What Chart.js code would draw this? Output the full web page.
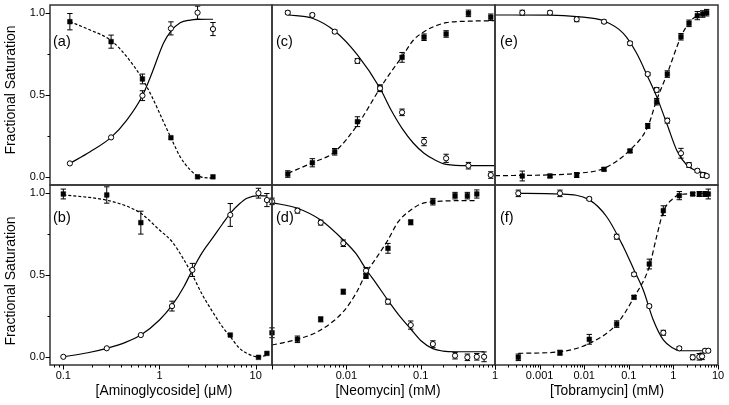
<!DOCTYPE html>
<html><head><meta charset="utf-8">
<script src="https://cdn.jsdelivr.net/npm/chart.js@4/dist/chart.umd.min.js"></script>
<style>
html,body{margin:0;padding:0;background:#fff;}
#wrap{position:relative;width:729px;height:405px;overflow:hidden;background:#fff;}
#wrap canvas{position:absolute;left:0;top:0;}
</style></head><body>
<div id="wrap">
<canvas id="pa" width="729" height="405"></canvas>
<canvas id="pb" width="729" height="405"></canvas>
<canvas id="pc" width="729" height="405"></canvas>
<canvas id="pd" width="729" height="405"></canvas>
<canvas id="pe" width="729" height="405"></canvas>
<canvas id="pf" width="729" height="405"></canvas>
</div>
<script>
// ---------- tick labels ----------
const yTickVals = [0, 0.5, 1];
const xTicksAmino = [0.1, 1, 10];
const xTicksNeo = [0.01, 0.1, 1];
const xTicksTobra = [0.001, 0.01, 0.1, 1, 10];

// ---------- panel (a) ----------
const aX = [0.117, 0.314, 0.665, 1.315, 2.49, 3.6];
const aOpen = [0.082, 0.241, 0.496, 0.907, 1.003, 0.903];
const aOpenErr = [0, 0, 0.03, 0.04, 0.04, 0.04];
const aFilled = [0.948, 0.826, 0.598, 0.239, 0.0, 0.0];
const aFilledErr = [0.05, 0.04, 0.03, 0, 0, 0];
const aFitX = [0.117, 0.19, 0.314, 0.457, 0.665, 0.834, 1.1, 1.315, 1.64, 2.09, 2.49, 3.6];
const aFitOpen = [0.082, 0.153, 0.241, 0.347, 0.496, 0.633, 0.816, 0.89, 0.942, 0.958, 0.962, 0.963];
const aFitFilled = [0.948, 0.897, 0.833, 0.734, 0.598, 0.49, 0.337, 0.239, 0.123, 0.042, 0.006, -0.009];

// ---------- panel (b) ----------
const bOpenX = [0.1, 0.283, 0.64, 1.35, 2.2, 5.45, 10.7, 13.1];
const bOpen = [0.0, 0.052, 0.133, 0.31, 0.531, 0.867, 1.0, 0.958];
const bOpenErr = [0, 0, 0, 0.03, 0.04, 0.07, 0.03, 0.04];
const bFilledX = [0.1, 0.283, 0.64, 5.45, 10.7, 13.1];
const bFilled = [0.995, 0.989, 0.82, 0.133, -0.003, 0.021];
const bFilledErr = [0.03, 0.05, 0.07, 0, 0, 0];
const bFitX = [0.1, 0.18, 0.283, 0.45, 0.64, 1.0, 1.35, 1.8, 2.2, 2.8, 3.65, 4.5, 5.45, 6.8, 8.13, 10.7, 13.1];
const bFitOpen = [0.0, 0.025, 0.052, 0.09, 0.133, 0.225, 0.314, 0.43, 0.531, 0.64, 0.734, 0.81, 0.877, 0.935, 0.969, 0.985, 0.983];
const bFitFilled = [0.989, 0.975, 0.957, 0.922, 0.877, 0.775, 0.704, 0.592, 0.5, 0.378, 0.266, 0.184, 0.123, 0.052, 0.021, 0.0, 0.01];

// ---------- panel (c) ----------
const cX = [0.00163, 0.00349, 0.00698, 0.0141, 0.0284, 0.0562, 0.111, 0.22, 0.439, 0.877];
const cOpen = [1.003, 0.989, 0.887, 0.708, 0.541, 0.394, 0.215, 0.113, 0.068, 0.011];
const cOpenErr = [0.01, 0.01, 0.01, 0.015, 0.02, 0.02, 0.025, 0.025, 0.02, 0.02];
const cFilled = [0.017, 0.086, 0.153, 0.337, 0.541, 0.73, 0.853, 0.873, 0.999, 0.975];
const cFilledErr = [0.02, 0.025, 0.02, 0.03, 0.02, 0.03, 0.02, 0.02, 0.02, 0.02];
const cFitX = [0.00163, 0.00349, 0.00698, 0.0141, 0.0284, 0.04, 0.0562, 0.08, 0.111, 0.15, 0.22, 0.439, 1.0];
const cFitOpen = [0.989, 0.969, 0.891, 0.745, 0.541, 0.408, 0.296, 0.205, 0.144, 0.107, 0.076, 0.068, 0.068];
const cFitFilled = [0.021, 0.086, 0.153, 0.317, 0.541, 0.642, 0.734, 0.836, 0.887, 0.918, 0.942, 0.951, 0.954];

// ---------- panel (d) ----------
const dOpenX = [0.001, 0.0022, 0.00452, 0.0091, 0.0184, 0.0363, 0.0735, 0.146, 0.29, 0.425, 0.569, 0.713];
const dOpen = [0.95, 0.893, 0.82, 0.694, 0.526, 0.337, 0.194, 0.078, 0.007, -0.003, 0.0, 0.0];
const dOpenErr = [0.02, 0.015, 0.015, 0.02, 0.02, 0.015, 0.025, 0.02, 0.02, 0.02, 0.02, 0.03];
const dFilledX = [0.001, 0.0022, 0.00452, 0.0091, 0.0184, 0.0363, 0.0735, 0.146, 0.29, 0.425, 0.569];
const dFilled = [0.147, 0.107, 0.229, 0.398, 0.494, 0.663, 0.822, 0.948, 0.985, 0.985, 0.995];
const dFilledErr = [0.03, 0.02, 0.015, 0.015, 0.015, 0.03, 0.015, 0.02, 0.02, 0.02, 0.025];
const dFitOpenX = [0.001, 0.0022, 0.00452, 0.0091, 0.0135, 0.0184, 0.026, 0.0363, 0.05, 0.0735, 0.1, 0.146, 0.2, 0.29, 0.713];
const dFitOpen = [0.942, 0.908, 0.836, 0.714, 0.63, 0.535, 0.44, 0.345, 0.26, 0.17, 0.1, 0.05, 0.035, 0.031, 0.031];
const dFitFilledX = [0.001, 0.0022, 0.00452, 0.0091, 0.0135, 0.0184, 0.026, 0.0363, 0.05, 0.0735, 0.1, 0.146, 0.2, 0.29, 0.58];
const dFitFilled = [0.072, 0.107, 0.164, 0.276, 0.388, 0.51, 0.612, 0.714, 0.826, 0.897, 0.934, 0.948, 0.952, 0.954, 0.955];

// ---------- panel (e) ----------
const eX = [0.000409, 0.00171, 0.00679, 0.0278, 0.1064, 0.2656, 0.4217, 0.73, 1.479, 2.24, 3.44, 4.54, 5.58];
const eOpen = [1.003, 1.003, 0.963, 0.948, 0.816, 0.628, 0.531, 0.343, 0.144, 0.072, 0.037, 0.011, 0.005];
const eOpenErr = [0.015, 0.01, 0.015, 0.01, 0.01, 0.01, 0.015, 0.015, 0.03, 0.015, 0.01, 0.015, 0.01];
const eFilled = [0.005, 0.005, 0.011, 0.046, 0.158, 0.311, 0.459, 0.628, 0.856, 0.938, 0.985, 0.995, 1.003];
const eFilledErr = [0.03, 0.01, 0.015, 0.01, 0.01, 0.015, 0.02, 0.02, 0.02, 0.02, 0.025, 0.02, 0.02];
const eFitOpenX = [0.0001, 0.00171, 0.00679, 0.0278, 0.0753, 0.15, 0.2656, 0.4217, 0.73, 1.185, 1.99, 3.2, 5.58];
const eFitOpen = [0.989, 0.988, 0.979, 0.952, 0.877, 0.755, 0.612, 0.49, 0.317, 0.163, 0.072, 0.037, 0.021];
const eFitFilledX = [0.0001, 0.00171, 0.00679, 0.0278, 0.1064, 0.2656, 0.4217, 0.73, 1.479, 2.35, 3.44, 5.58];
const eFitFilled = [0.007, 0.012, 0.021, 0.052, 0.164, 0.305, 0.469, 0.632, 0.856, 0.948, 0.985, 1.003];

// ---------- panel (f) ----------
const fOpenX = [0.000333, 0.00286, 0.013, 0.0535, 0.131, 0.288, 0.594, 1.357, 2.71, 3.81, 4.4, 5.12, 6.06];
const fOpen = [0.999, 0.999, 0.965, 0.734, 0.504, 0.31, 0.147, 0.052, -0.003, 0.0, 0.003, 0.037, 0.037];
const fOpenErr = [0.02, 0.02, 0.01, 0.015, 0.01, 0.01, 0.015, 0.01, 0.015, 0.02, 0.02, 0.01, 0.01];
const fFilledX = [0.000333, 0.00286, 0.013, 0.0535, 0.131, 0.288, 0.594, 1.357, 2.71, 3.81, 5.12, 6.06];
const fFilled = [-0.003, 0.025, 0.107, 0.2, 0.364, 0.567, 0.893, 0.985, 0.995, 0.995, 0.995, 0.995];
const fFilledErr = [0.02, 0.015, 0.03, 0.02, 0.01, 0.03, 0.03, 0.025, 0.01, 0.015, 0.015, 0.03];
const fFitOpenX = [0.000333, 0.00286, 0.013, 0.0319, 0.0753, 0.131, 0.211, 0.354, 0.594, 1.0, 1.357, 6.6];
const fFitOpen = [0.999, 0.995, 0.959, 0.856, 0.673, 0.531, 0.408, 0.225, 0.103, 0.052, 0.037, 0.037];
const fFitFilledX = [0.000333, 0.00286, 0.013, 0.0535, 0.131, 0.288, 0.42, 0.594, 1.0, 1.357, 6.06];
const fFitFilled = [0.021, 0.031, 0.082, 0.2, 0.364, 0.551, 0.734, 0.887, 0.969, 0.991, 1.0];

// ---------- rendering ----------
const FONT = '"Liberation Sans", Arial, Helvetica, sans-serif';
Chart.defaults.font.family = FONT;
Chart.defaults.color = '#000';
const W = 729, H = 405;
const COLS = [{l:50, r:272}, {l:272, r:495}, {l:495, r:718}];
const ROWS = [{t:5, b:185}, {t:185, b:365}];
const Y_AXIS_W = 50, X_AXIS_H = 40;

function pts(xs, ys) { return xs.map((x, i) => ({x: x, y: ys[i]})); }

const errorBars = {
  id: 'errorBars',
  beforeDatasetsDraw(chart) {
    const ctx = chart.ctx, xs = chart.scales.x, ys = chart.scales.y;
    ctx.save();
    ctx.strokeStyle = '#000'; ctx.lineWidth = 1;
    chart.data.datasets.forEach(ds => {
      if (!ds.errors) return;
      ds.data.forEach((p, i) => {
        const e = ds.errors[i]; if (!e) return;
        const px = xs.getPixelForValue(p.x);
        const y1 = ys.getPixelForValue(p.y + e), y2 = ys.getPixelForValue(p.y - e);
        ctx.beginPath();
        ctx.moveTo(px, y1); ctx.lineTo(px, y2);
        ctx.moveTo(px - 2.7, y1); ctx.lineTo(px + 2.7, y1);
        ctx.moveTo(px - 2.7, y2); ctx.lineTo(px + 2.7, y2);
        ctx.stroke();
      });
    });
    ctx.restore();
  }
};

function framePlugin(p) {
  return {
    id: 'frame',
    afterDraw(chart) {
      const ctx = chart.ctx, a = chart.chartArea;
      ctx.save();
      ctx.strokeStyle = '#333'; ctx.lineWidth = 1.5;
      ctx.strokeRect(a.left, a.top, a.right - a.left, a.bottom - a.top);
      ctx.strokeStyle = '#000'; ctx.lineWidth = 1;
      if (p.row === 1) {
        const xs = chart.scales.x;
        const lo = Math.floor(Math.log10(p.xMin)), hi = Math.ceil(Math.log10(p.xMax));
        ctx.beginPath();
        for (let d = lo; d <= hi; d++) {
          for (let m = 1; m <= 9; m++) {
            const v = m * Math.pow(10, d);
            if (v < p.xMin * 0.999 || v > p.xMax * 1.001) continue;
            const px = Math.round(xs.getPixelForValue(v)) + 0.5;
            const len = m === 1 ? 4.5 : 2.5;
            ctx.moveTo(px, a.bottom); ctx.lineTo(px, a.bottom + len);
          }
        }
        ctx.stroke();
      }
      if (p.col === 0) {
        const ys = chart.scales.y;
        ctx.beginPath();
        [0, 0.25, 0.5, 0.75, 1].forEach(v => {
          const py = Math.round(ys.getPixelForValue(v)) + 0.5;
          const len = (v === 0.25 || v === 0.75) ? 2.5 : 4.5;
          ctx.moveTo(a.left, py); ctx.lineTo(a.left - len, py);
        });
        ctx.stroke();
      }
      ctx.fillStyle = '#000';
      ctx.textBaseline = 'middle';
      ctx.textAlign = 'left';
      ctx.font = '14.5px ' + FONT;
      ctx.fillText(p.label, p.lx, p.ly);
      if (p.ytitle) {
        ctx.save();
        ctx.translate(11, p.ytitleY);
        ctx.rotate(-Math.PI / 2);
        ctx.textAlign = 'center';
        ctx.font = '14px ' + FONT;
        ctx.fillText(p.ytitle, 0, 0);
        ctx.restore();
      }
      if (p.xtitle) {
        ctx.textAlign = 'center';
        ctx.font = '13.8px ' + FONT;
        ctx.fillText(p.xtitle, p.xtitleX, 391);
      }
      ctx.restore();
    }
  };
}

function makePanel(id, p) {
  const col = COLS[p.col], row = ROWS[p.row];
  const showX = p.row === 1, showY = p.col === 0;
  const pad = {
    left: col.l - (showY ? Y_AXIS_W : 0),
    right: W - col.r,
    top: row.t,
    bottom: showX ? H - row.b - X_AXIS_H : H - row.b
  };
  const xScale = {
    type: 'logarithmic', min: p.xMin, max: p.xMax, display: showX,
    grid: { display: false, drawTicks: false }, border: { display: false },
    ticks: { font: { size: 11 }, color: '#000', padding: 4, autoSkip: false, maxRotation: 0,
             callback: v => String(v) },
    afterBuildTicks: s => { s.ticks = p.xTicks.map(v => ({ value: v })); }
  };
  if (showX) xScale.afterFit = s => { s.height = X_AXIS_H; s.paddingLeft = 0; s.paddingRight = 0; };
  const yScale = {
    type: 'linear', min: -0.05, max: 1.05, display: showY,
    grid: { display: false, drawTicks: false }, border: { display: false },
    ticks: { font: { size: 11 }, color: '#000', padding: 5, autoSkip: false,
             callback: v => Number(v).toFixed(1) },
    afterBuildTicks: s => { s.ticks = yTickVals.map(v => ({ value: v })); }
  };
  if (showY) yScale.afterFit = s => { s.width = Y_AXIS_W; s.paddingTop = 0; s.paddingBottom = 0; };
  return new Chart(document.getElementById(id), {
    type: 'scatter',
    data: { datasets: [
      { data: pts(p.openX, p.open), errors: p.openErr, pointStyle: 'circle', pointRadius: 2.6,
        pointBackgroundColor: '#fff', pointBorderColor: '#000', pointBorderWidth: 1, order: 0, clip: false },
      { data: pts(p.filledX, p.filled), errors: p.filledErr, pointStyle: 'rect', pointRadius: 3.3,
        pointBackgroundColor: '#000', pointBorderColor: '#000', pointBorderWidth: 0.5, order: 1, clip: false },
      { data: pts(p.fitOpenX, p.fitOpen), showLine: true, pointRadius: 0, borderColor: '#000',
        borderWidth: 1.2, cubicInterpolationMode: 'monotone', fill: false, order: 3 },
      { data: pts(p.fitFilledX, p.fitFilled), showLine: true, pointRadius: 0, borderColor: '#000',
        borderWidth: 1.2, borderDash: p.dash, cubicInterpolationMode: 'monotone', fill: false, order: 2 }
    ]},
    options: {
      responsive: false, animation: false, devicePixelRatio: 1, events: [],
      layout: { padding: pad },
      plugins: { legend: { display: false }, tooltip: { enabled: false } },
      scales: { x: xScale, y: yScale }
    },
    plugins: [errorBars, framePlugin(p)]
  });
}

makePanel('pa', { col:0, row:0, xMin:0.0727, xMax:14.8, xTicks:xTicksAmino, label:'(a)', lx:53, ly:42, dash:[3,2],
  ytitle:'Fractional Saturation', ytitleY:90,
  openX:aX, open:aOpen, openErr:aOpenErr, filledX:aX, filled:aFilled, filledErr:aFilledErr,
  fitOpenX:aFitX, fitOpen:aFitOpen, fitFilledX:aFitX, fitFilled:aFitFilled });
makePanel('pb', { col:0, row:1, xMin:0.0727, xMax:14.8, xTicks:xTicksAmino, label:'(b)', lx:53, ly:218, dash:[3,2],
  ytitle:'Fractional Saturation', ytitleY:281, xtitle:'[Aminoglycoside] (\u03bcM)', xtitleX:164,
  openX:bOpenX, open:bOpen, openErr:bOpenErr, filledX:bFilledX, filled:bFilled, filledErr:bFilledErr,
  fitOpenX:bFitX, fitOpen:bFitOpen, fitFilledX:bFitX, fitFilled:bFitFilled });
makePanel('pc', { col:1, row:0, xMin:0.001, xMax:1, xTicks:xTicksNeo, label:'(c)', lx:276, ly:42, dash:[5,3],
  openX:cX, open:cOpen, openErr:cOpenErr, filledX:cX, filled:cFilled, filledErr:cFilledErr,
  fitOpenX:cFitX, fitOpen:cFitOpen, fitFilledX:cFitX, fitFilled:cFitFilled });
makePanel('pd', { col:1, row:1, xMin:0.001, xMax:1, xTicks:xTicksNeo, label:'(d)', lx:276, ly:218, dash:[5,3],
  xtitle:'[Neomycin] (mM)', xtitleX:388,
  openX:dOpenX, open:dOpen, openErr:dOpenErr, filledX:dFilledX, filled:dFilled, filledErr:dFilledErr,
  fitOpenX:dFitOpenX, fitOpen:dFitOpen, fitFilledX:dFitFilledX, fitFilled:dFitFilled });
makePanel('pe', { col:2, row:0, xMin:0.0001, xMax:10, xTicks:xTicksTobra, label:'(e)', lx:500, ly:42, dash:[5,3],
  openX:eX, open:eOpen, openErr:eOpenErr, filledX:eX, filled:eFilled, filledErr:eFilledErr,
  fitOpenX:eFitOpenX, fitOpen:eFitOpen, fitFilledX:eFitFilledX, fitFilled:eFitFilled });
makePanel('pf', { col:2, row:1, xMin:0.0001, xMax:10, xTicks:xTicksTobra, label:'(f)', lx:500, ly:218, dash:[5,3],
  xtitle:'[Tobramycin] (mM)', xtitleX:607,
  openX:fOpenX, open:fOpen, openErr:fOpenErr, filledX:fFilledX, filled:fFilled, filledErr:fFilledErr,
  fitOpenX:fFitOpenX, fitOpen:fFitOpen, fitFilledX:fFitFilledX, fitFilled:fFitFilled });
</script>
</body></html>
